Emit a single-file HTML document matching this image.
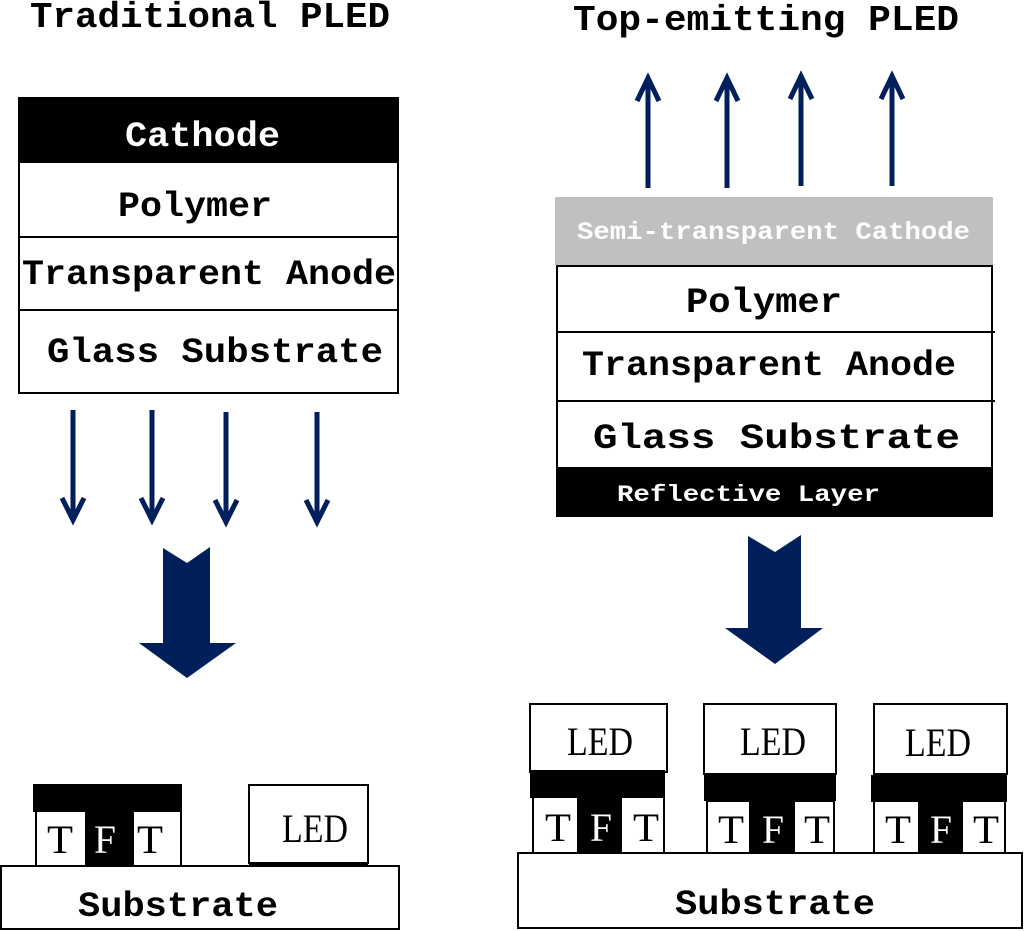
<!DOCTYPE html>
<html><head><meta charset="utf-8"><style>
html,body{margin:0;padding:0;background:#fff;}
svg{display:block;}
text{font-family:"Liberation Mono","DejaVu Sans Mono",monospace;}
.s{font-family:"Liberation Serif",serif;}
</style></head><body>
<svg width="1024" height="931" viewBox="0 0 1024 931" xmlns="http://www.w3.org/2000/svg">
<g fill="#000" font-size="36" font-weight="bold">
<text x="30" y="27" textLength="360" lengthAdjust="spacingAndGlyphs">Traditional PLED</text>
<text x="573" y="30" textLength="386" lengthAdjust="spacingAndGlyphs">Top-emitting PLED</text>
</g>
<!-- left stack -->
<rect x="18" y="97" width="381" height="65" fill="#000"/>
<rect x="19" y="162" width="379" height="231" fill="#fff" stroke="#000" stroke-width="2"/>
<line x1="19" y1="237" x2="398" y2="237" stroke="#000" stroke-width="2"/>
<line x1="19" y1="310" x2="398" y2="310" stroke="#000" stroke-width="2"/>
<g font-size="35" font-weight="bold">
<text x="125" y="146" fill="#fff" textLength="155" lengthAdjust="spacingAndGlyphs">Cathode</text>
<text x="118" y="216" textLength="154" lengthAdjust="spacingAndGlyphs">Polymer</text>
<text x="22" y="284" textLength="374" lengthAdjust="spacingAndGlyphs">Transparent Anode</text>
<text x="47" y="362" textLength="336" lengthAdjust="spacingAndGlyphs">Glass Substrate</text>
</g>
<!-- left small arrows -->
<g stroke="#001f5b" stroke-width="5" fill="none">
<line x1="73" y1="410" x2="73" y2="520"/><polyline points="62,498 73,520 84,498"/>
<line x1="152" y1="410" x2="152" y2="520"/><polyline points="141,498 152,520 163,498"/>
<line x1="226" y1="412" x2="226" y2="522"/><polyline points="215,500 226,522 237,500"/>
<line x1="317" y1="412" x2="317" y2="522"/><polyline points="306,500 317,522 328,500"/>
</g>
<polygon fill="#001f5b" points="163,548 187,563 210,547 210,643 236,643 187,678 139,643 163,643"/>
<!-- right up arrows -->
<g stroke="#001f5b" stroke-width="5" fill="none">
<line x1="648" y1="188" x2="648" y2="78"/><polyline points="637,101 648,78 659,101"/>
<line x1="727" y1="188" x2="727" y2="78"/><polyline points="716,101 727,78 738,101"/>
<line x1="801" y1="186" x2="801" y2="76"/><polyline points="790,99 801,76 812,99"/>
<line x1="892" y1="186" x2="892" y2="76"/><polyline points="881,99 892,76 903,99"/>
</g>
<rect x="555" y="197" width="438" height="68" fill="#c0c0c0"/>
<text x="577" y="239" fill="#fff" font-size="25" font-weight="bold" textLength="393" lengthAdjust="spacingAndGlyphs">Semi-transparent Cathode</text>
<rect x="557" y="266" width="435" height="202" fill="#fff" stroke="#000" stroke-width="2"/>
<line x1="557" y1="332" x2="995" y2="332" stroke="#000" stroke-width="2"/>
<line x1="557" y1="401" x2="995" y2="401" stroke="#000" stroke-width="2"/>
<rect x="556" y="468" width="437" height="49" fill="#000"/>
<g font-size="35" font-weight="bold">
<text x="686" y="312" textLength="156" lengthAdjust="spacingAndGlyphs">Polymer</text>
<text x="582" y="375" textLength="374" lengthAdjust="spacingAndGlyphs">Transparent Anode</text>
<text x="593" y="448" textLength="367" lengthAdjust="spacingAndGlyphs">Glass  Substrate</text>
</g>
<text x="617" y="501" fill="#fff" font-size="23" font-weight="bold" textLength="263" lengthAdjust="spacingAndGlyphs">Reflective Layer</text>
<polygon fill="#001f5b" points="748,536 775,552 801,535 801,628 823,628 775,664 725,628 748,628"/>
<!-- left bottom -->
<rect x="33" y="784" width="149" height="28" fill="#000"/>
<rect x="36" y="811" width="145" height="55" fill="#fff" stroke="#000" stroke-width="2"/>
<rect x="85" y="811" width="49" height="55" fill="#000"/>
<rect x="249" y="785" width="119" height="78" fill="#fff" stroke="#000" stroke-width="2"/>
<line x1="249" y1="864" x2="368" y2="864" stroke="#000" stroke-width="3"/>
<rect x="1" y="866" width="398" height="63" fill="#fff" stroke="#000" stroke-width="2"/>
<g font-size="40">
<text class="s" x="47" y="853" textLength="26" lengthAdjust="spacingAndGlyphs">T</text>
<text class="s" x="94" y="853" fill="#fff" textLength="22" lengthAdjust="spacingAndGlyphs">F</text>
<text class="s" x="137" y="853" textLength="26" lengthAdjust="spacingAndGlyphs">T</text>
<text class="s" x="282" y="842" textLength="66" lengthAdjust="spacingAndGlyphs">LED</text>
</g>
<text x="78" y="916" font-size="35" font-weight="bold" textLength="200" lengthAdjust="spacingAndGlyphs">Substrate</text>
<!-- right bottom -->
<g stroke="#000" stroke-width="2" fill="#fff">
<rect x="530" y="704" width="137" height="68"/>
<rect x="533" y="797" width="131" height="56"/>
<rect x="704" y="704" width="132" height="70"/>
<rect x="707" y="801" width="127" height="52"/>
<rect x="874" y="704" width="133" height="70"/>
<rect x="874" y="801" width="131" height="52"/>
</g>
<g fill="#000">
<rect x="530" y="770" width="135" height="28"/>
<rect x="577" y="797" width="45" height="56"/>
<rect x="704" y="773" width="132" height="28"/>
<rect x="749" y="801" width="46" height="52"/>
<rect x="871" y="775" width="136" height="27"/>
<rect x="918" y="801" width="45" height="52"/>
</g>
<rect x="518" y="853" width="504" height="75" fill="#fff" stroke="#000" stroke-width="2"/>
<g font-size="40">
<text class="s" x="567" y="755" textLength="66" lengthAdjust="spacingAndGlyphs">LED</text>
<text class="s" x="740" y="755" textLength="66" lengthAdjust="spacingAndGlyphs">LED</text>
<text class="s" x="905" y="756" textLength="66" lengthAdjust="spacingAndGlyphs">LED</text>
<text class="s" x="545" y="841" textLength="26" lengthAdjust="spacingAndGlyphs">T</text>
<text class="s" x="590" y="841" fill="#fff" textLength="22" lengthAdjust="spacingAndGlyphs">F</text>
<text class="s" x="633" y="841" textLength="26" lengthAdjust="spacingAndGlyphs">T</text>
<text class="s" x="718" y="843" textLength="26" lengthAdjust="spacingAndGlyphs">T</text>
<text class="s" x="762" y="843" fill="#fff" textLength="22" lengthAdjust="spacingAndGlyphs">F</text>
<text class="s" x="804" y="843" textLength="26" lengthAdjust="spacingAndGlyphs">T</text>
<text class="s" x="885" y="843" textLength="26" lengthAdjust="spacingAndGlyphs">T</text>
<text class="s" x="930" y="843" fill="#fff" textLength="22" lengthAdjust="spacingAndGlyphs">F</text>
<text class="s" x="973" y="843" textLength="26" lengthAdjust="spacingAndGlyphs">T</text>
</g>
<text x="675" y="914" font-size="35" font-weight="bold" textLength="200" lengthAdjust="spacingAndGlyphs">Substrate</text>
</svg>
</body></html>
